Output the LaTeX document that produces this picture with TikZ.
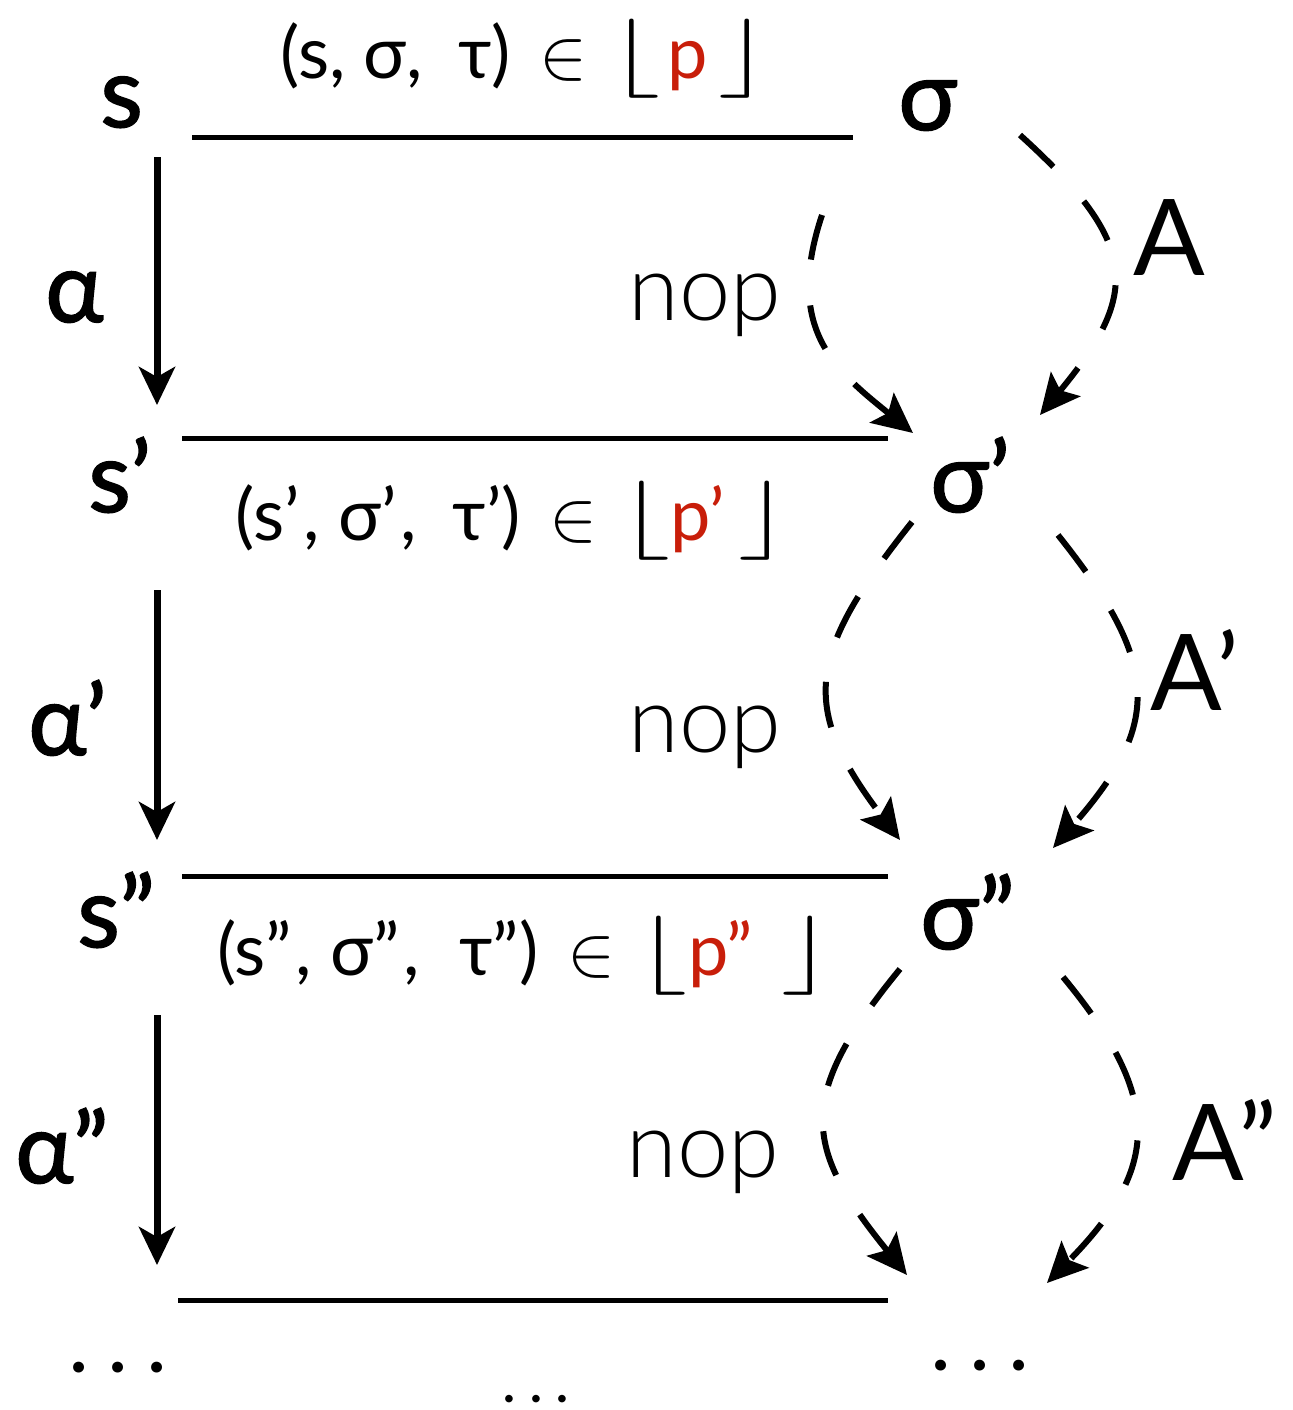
\RequirePackage{fix-cm}
\documentclass[tikz,border=0pt]{standalone}
\usepackage{graphicx}
\usepackage{fontspec}
\setmainfont{Lato}
\newfontfamily\lightf{Lato Light}
\newfontfamily\medf{Lato}[FakeBold=1.6]
\usetikzlibrary{arrows.meta}
\definecolor{pred}{RGB}{200,30,10}
\newcommand{\myfl}{\scalebox{1.6}[1.1]{$\lfloor$}}
\newcommand{\myfr}{\scalebox{1.6}[1.1]{$\rfloor$}}
\tikzset{
  big/.style={font=\fontsize{49}{56}\selectfont\medf, inner sep=0pt, anchor=base west},
  bigA/.style={font=\fontsize{53}{60}\selectfont, inner sep=0pt, anchor=base west},
  nopl/.style={font=\fontsize{46}{54}\selectfont\lightf, inner sep=0pt, anchor=base west},
  lab/.style={font=\fontsize{36}{42}\selectfont, inner sep=0pt, anchor=base},
  dotsl/.style={font=\fontsize{36}{40}\selectfont\bfseries, inner sep=0pt, anchor=base},
  dotss/.style={font=\fontsize{25}{30}\selectfont\bfseries, inner sep=0pt, anchor=base},
  hline/.style={line width=2.5pt},
  varrow/.style={line width=3.5pt, -{Stealth[length=19pt,width=18pt,inset=5pt]}},
  darrow/.style={line width=3pt, dash pattern=on 23pt off 23pt, -{Stealth[length=20pt,width=19pt,inset=4pt]}},
}
\begin{document}
\begin{tikzpicture}[x=0.5pt,y=-0.5pt]
\useasboundingbox (0,0) rectangle (1293,1410);
% state labels
\node[big] (s0) at (100,127) {s};
\node[big] (s1) at (88,512) {s’};
\node[big] (s2) at (77,947) {s”};
\node[big] (sig0) at (898,130) {σ};
\node[big] (sig1) at (930,512) {σ’};
\node[big] (sig2) at (920,949) {σ”};
\node[big] (a0) at (45,322) {α};
\node[big] (a1) at (28,755) {α’};
\node[big] (a2) at (15,1183) {α”};
\node[bigA] (A0) at (1133,275) {A};
\node[bigA] (A1) at (1150,710) {A’};
\node[bigA] (A2) at (1172,1180) {A”};
\node[nopl] (nop0) at (628,320) {nop};
\node[nopl] (nop1) at (628,752) {nop};
\node[nopl] (nop2) at (626,1177) {nop};
% relation labels
\node[lab] (l0) at (525,78) {(s, σ,\hspace{0.5em}τ)\hspace{0.4em}$\in$\hspace{0.3em}\myfl\hspace{0.1em}\textcolor{pred}{p}\hspace{0.15em}\myfr};
\node[lab] (l1) at (513,540) {(s’\hspace{0.05em}, σ’\hspace{0.05em},\hspace{0.5em}τ’)\hspace{0.4em}$\in$\hspace{0.3em}\myfl\textcolor{pred}{p’}\hspace{0.2em}\myfr};
\node[lab] (l2) at (525,975) {(s”\hspace{0.05em}, σ”\hspace{0.05em},\hspace{0.55em}τ”)\hspace{0.4em}$\in$\hspace{0.3em}\myfl\textcolor{pred}{p”}\hspace{0.4em}\myfr};
% dots
\node[dotsl] (d0) at (118,1372) {.\hspace{0.3em}.\hspace{0.3em}.};
\node[dotsl] (d1) at (980,1370) {.\hspace{0.3em}.\hspace{0.3em}.};
\node[dotss] (d2) at (536,1402) {.\hspace{0.3em}.\hspace{0.3em}.};
% coordinates
\coordinate (h0a) at (192,137); \coordinate (h0b) at (853,137);
\coordinate (h1a) at (182,438); \coordinate (h1b) at (888,438);
\coordinate (h2a) at (182,876); \coordinate (h2b) at (888,876);
\coordinate (h3a) at (178,1300); \coordinate (h3b) at (888,1300);
\coordinate (v0a) at (157,157); \coordinate (v0b) at (157,405);
\coordinate (v1a) at (157,590); \coordinate (v1b) at (157,840);
\coordinate (v2a) at (157,1015); \coordinate (v2b) at (157,1265);
\coordinate (n0a) at (822,215); \coordinate (n0b) at (913,433);
\coordinate (m0a) at (1020,135); \coordinate (m0b) at (1040,415);
\coordinate (n1a) at (912,522); \coordinate (n1b) at (900,840);
\coordinate (m1a) at (1058,535); \coordinate (m1b) at (1053,848);
\coordinate (n2a) at (900,969); \coordinate (n2b) at (907,1275);
\coordinate (m2a) at (1063,977); \coordinate (m2b) at (1047,1283);
% lines
\draw[hline] (h0a) -- (h0b);
\draw[hline] (h1a) -- (h1b);
\draw[hline] (h2a) -- (h2b);
\draw[hline] (h3a) -- (h3b);
\draw[varrow] (v0a) -- (v0b);
\draw[varrow] (v1a) -- (v1b);
\draw[varrow] (v2a) -- (v2b);
% dashed transitions
\draw[darrow] (n0a) .. controls (784,329) and (835,370) .. (n0b);
\draw[darrow] (m0a) .. controls (1138,242) and (1142,292) .. (m0b);
\draw[darrow] (n1a) .. controls (808,653) and (798,706) .. (n1b);
\draw[darrow] (m1a) .. controls (1161,664) and (1162,724) .. (m1b);
\draw[darrow] (n2a) .. controls (795,1097) and (803,1147) .. (n2b);
\draw[darrow] (m2a) .. controls (1165,1100) and (1159,1169) .. (m2b);
\end{tikzpicture}
\end{document}
